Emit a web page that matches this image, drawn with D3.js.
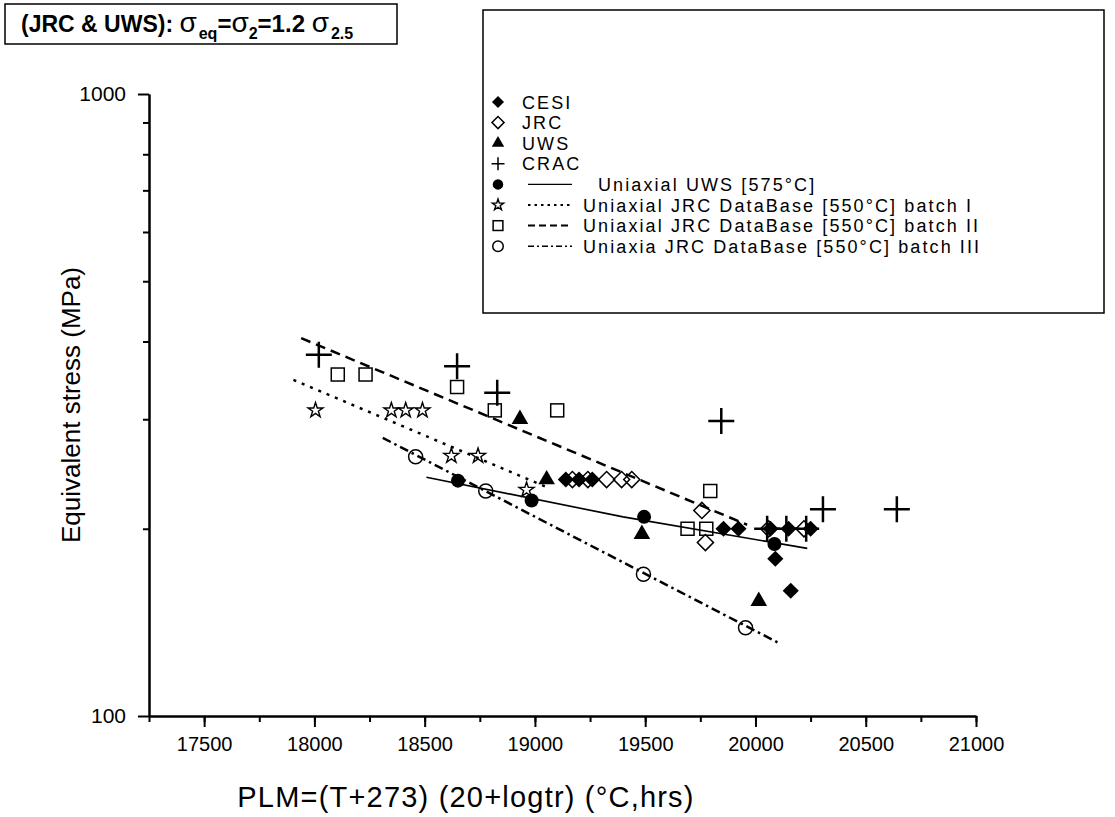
<!DOCTYPE html>
<html lang="en">
<head>
<meta charset="UTF-8">
<title>Equivalent stress vs PLM</title>
<script src="https://d3js.org/d3.v7.min.js"></script>
<style>
    body { margin: 0; background: #fff; }
    svg { display: block; font-family: "Liberation Sans", Arial, sans-serif; }
    .axis path, .axis line { stroke: #000; stroke-width: 2; }
    .axis text { font-size: 20px; fill: #000; font-family: "Liberation Sans", Arial, sans-serif; }
    .legend text { font-size: 18px; letter-spacing: 2.1px; }
</style>
</head>
<body>
<svg id="chart" width="1115" height="817"></svg>
<script>
// points: [PLM, stress MPa]
const cesi = [[19140, 240], [19200, 240], [19260, 240], [19855, 200], [19923, 200], [20068, 200], [20150, 200], [20250, 200], [20090, 179], [20160, 159]];
const jrc = [[19170, 240], [19240, 240], [19325, 240], [19393, 240], [19439, 240], [19757, 214], [19773, 190], [20060, 200], [20220, 200]];
const uws = [[18932, 300], [19053, 240], [19485, 196], [20015, 153]];
const crac = [[18020, 381], [18647, 365], [18829, 331], [19845, 298], [20306, 215], [20641, 215], [20053, 200], [20140, 200], [20230, 200]];
const uniUws = [[18651, 239], [18985, 222], [19495, 209], [20086, 189]];
const batch1 = [[18005, 310], [18349, 310], [18414, 310], [18490, 310], [18621, 262], [18742, 262], [18962, 231]];
const batch2 = [[18106, 354], [18232, 354], [18647, 338], [18818, 310], [19101, 310], [19795, 230], [19692, 200], [19777, 200]];
const batch3 = [[18459, 261], [18777, 230], [19492, 169], [19955, 138.6]];

// fitted lines
const fitUws = [[18508, 242], [19400, 209], [20235, 186]];
const fitBatch1 = [[17905, 347], [19045, 234]];
const fitBatch2 = [[17940, 405], [19962, 203]];
const fitBatch3 = [[18310, 280], [20106, 131]];

const xTicks = [17500, 18000, 18500, 19000, 19500, 20000, 20500, 21000];
const yTicks = [100, 1000];

const legendLabels = ["CESI", "JRC", "UWS", "CRAC", "Uniaxial UWS [575°C]",
    "Uniaxial JRC DataBase [550°C] batch I", "Uniaxial JRC DataBase [550°C] batch II",
    "Uniaxia JRC DataBase [550°C] batch III"];

const svg = d3.select("#chart");
svg.append("rect").attr("width", 1115).attr("height", 817).attr("fill", "#fff");

const x = d3.scaleLinear().domain([17250, 21000]).range([149, 976]);
const y = d3.scaleLog().domain([100, 1000]).range([716, 94]);

// axes
const xMinor = d3.range(17250, 21001, 250);
svg.append("g").attr("class", "axis").attr("transform", "translate(0,716)")
    .call(d3.axisBottom(x).tickValues(xMinor).tickSize(6).tickSizeOuter(0).tickFormat(""));
svg.append("g").attr("class", "axis").attr("transform", "translate(0,716)")
    .call(d3.axisBottom(x).tickValues(xTicks).tickSize(11).tickSizeOuter(0).tickPadding(10).tickFormat(d3.format("d")));

svg.append("g").attr("class", "axis").attr("transform", "translate(149,0)")
    .call(d3.axisLeft(y).tickValues(d3.range(200, 1000, 100)).tickSize(6).tickSizeOuter(0).tickFormat(""));
const yAx = svg.append("g").attr("class", "axis").attr("transform", "translate(149,0)")
    .call(d3.axisLeft(y).tickValues(yTicks).tickSize(11).tickSizeOuter(0).tickPadding(12).tickFormat(d3.format("d")));
yAx.selectAll("text").style("font-size", "21px");

svg.append("text").attr("transform", "translate(80,405) rotate(-90)")
    .attr("text-anchor", "middle").attr("font-size", 26).text("Equivalent stress (MPa)");
svg.append("text").attr("x", 466).attr("y", 807)
    .attr("text-anchor", "middle").attr("font-size", 29).attr("letter-spacing", 1.2)
    .text("PLM=(T+273) (20+logtr) (°C,hrs)");

// fit lines
const line = d3.line().x(d => x(d[0])).y(d => y(d[1]));
const lineStyles = [
    { data: fitUws, dash: null, w: 1.6 },
    { data: fitBatch1, dash: "3,6", w: 2.5 },
    { data: fitBatch2, dash: "10,6", w: 2.5 },
    { data: fitBatch3, dash: "9,4,2.5,4", w: 2.5 }
];
lineStyles.forEach(s => {
    svg.append("path").attr("d", line(s.data)).attr("fill", "none")
        .attr("stroke", "#000").attr("stroke-width", s.w)
        .attr("stroke-dasharray", s.dash);
});

// marker drawing
function plusPath(r) { return `M${-r},0H${r}M0,${-r}V${r}`; }
const markers = {
    diamondFill: (g, k) => g.append("path").attr("d", d3.symbol(d3.symbolSquare, 130 * k * k)())
        .attr("transform", "rotate(45)").attr("fill", "#000"),
    diamondOpen: (g, k) => g.append("path").attr("d", d3.symbol(d3.symbolSquare, 130 * k * k)())
        .attr("transform", "rotate(45)").attr("fill", "none").attr("stroke", "#000").attr("stroke-width", 1.5),
    triangle: (g, k) => g.append("path").attr("d", d3.symbol(d3.symbolTriangle, 120 * k * k)()).attr("fill", "#000"),
    plus: (g, k) => g.append("path").attr("d", plusPath(13 * k)).attr("stroke", "#000").attr("stroke-width", k < 1 ? 1.5 : 2.5),
    circleFill: (g, k) => g.append("circle").attr("r", 7 * k).attr("fill", "#000"),
    star: (g, k) => g.append("path").attr("d", d3.symbol(d3.symbolStar, 70 * k * k)())
        .attr("fill", "none").attr("stroke", "#000").attr("stroke-width", 1.4),
    square: (g, k) => g.append("rect").attr("x", -6.5 * k).attr("y", -6.5 * k).attr("width", 13 * k).attr("height", 13 * k)
        .attr("fill", "none").attr("stroke", "#000").attr("stroke-width", 1.5),
    circleOpen: (g, k) => g.append("circle").attr("r", 7 * k).attr("fill", "none").attr("stroke", "#000").attr("stroke-width", 1.5)
};

const series = [
    { data: batch2, m: "square" },
    { data: batch1, m: "star" },
    { data: batch3, m: "circleOpen" },
    { data: uniUws, m: "circleFill" },
    { data: uws, m: "triangle" },
    { data: jrc, m: "diamondOpen" },
    { data: cesi, m: "diamondFill" },
    { data: crac, m: "plus" }
];
series.forEach(s => {
    s.data.forEach(d => {
        const g = svg.append("g").attr("transform", `translate(${x(d[0])},${y(d[1])})`);
        markers[s.m](g, 1);
    });
});

// title box
svg.append("rect").attr("x", 5).attr("y", 4).attr("width", 392).attr("height", 40)
    .attr("fill", "#fff").attr("stroke", "#000").attr("stroke-width", 1.5);
const title = svg.append("text").attr("x", 21).attr("y", 32).attr("font-size", 23).attr("font-weight", "bold");
title.append("tspan").text("(JRC & UWS): ");
title.append("tspan").attr("font-weight", "normal").attr("font-size", 28).text("σ");
title.append("tspan").attr("font-size", 16).attr("dy", 7).attr("dx", 2).text("eq");
title.append("tspan").attr("dy", -7).attr("font-size", 24).text("=");
title.append("tspan").attr("font-weight", "normal").attr("font-size", 28).text("σ");
title.append("tspan").attr("font-size", 16).attr("dy", 7).text("2");
title.append("tspan").attr("dy", -7).attr("font-size", 24).text("=1.2 ");
title.append("tspan").attr("font-weight", "normal").attr("font-size", 28).text("σ");
title.append("tspan").attr("font-size", 16).attr("dy", 7).attr("dx", 2).text("2.5");

// legend
const legend = svg.append("g").attr("class", "legend");
legend.append("rect").attr("x", 483).attr("y", 10).attr("width", 621).attr("height", 303)
    .attr("fill", "#fff").attr("stroke", "#000").attr("stroke-width", 1.5);
const legendMarkers = ["diamondFill", "diamondOpen", "triangle", "plus", "circleFill", "star", "square", "circleOpen"];
const legendLines = [null, null, null, null, { dash: null, w: 1.2 }, { dash: "2.5,4", w: 2 }, { dash: "7,4", w: 2 }, { dash: "6,3,2,3", w: 1.5 }];
legendLabels.forEach((lab, i) => {
    const yy = 102 + i * 20.6;
    const g = legend.append("g").attr("transform", `translate(498,${yy})`);
    markers[legendMarkers[i]](g, legendMarkers[i] === "plus" ? 0.5 : 0.75);
    let tx = 522;
    if (legendLines[i]) {
        legend.append("line").attr("x1", 528).attr("x2", 572).attr("y1", yy).attr("y2", yy)
            .attr("stroke", "#000").attr("stroke-width", legendLines[i].w)
            .attr("stroke-dasharray", legendLines[i].dash);
        tx = i === 4 ? 598 : 583;
    }
    legend.append("text").attr("x", tx).attr("y", yy + 6.5).text(lab);
});
</script>
</body>
</html>
